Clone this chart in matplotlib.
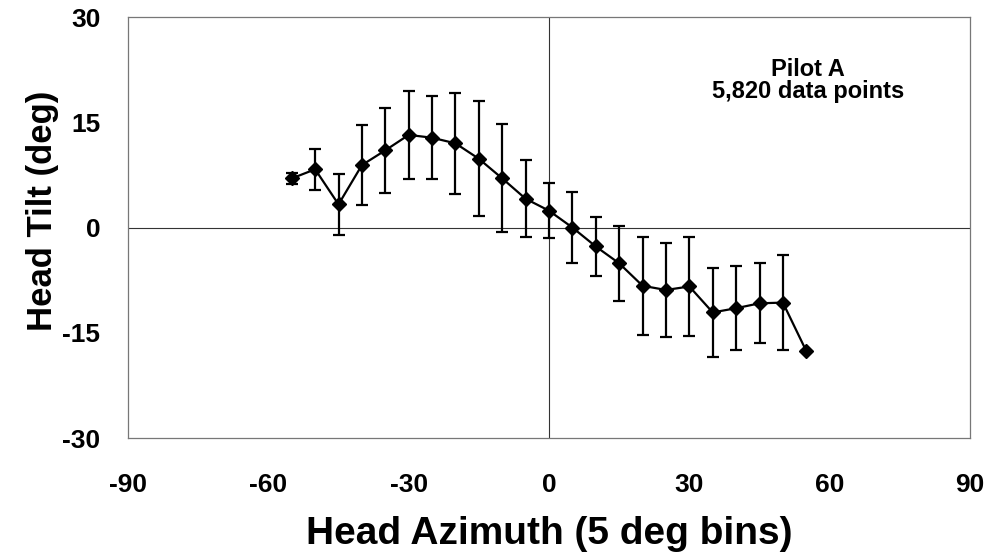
import matplotlib
matplotlib.use("Agg")
import matplotlib.pyplot as plt

azimuth = [-55, -50, -45, -40, -35, -30, -25, -20, -15, -10, -5, 0,
           5, 10, 15, 20, 25, 30, 35, 40, 45, 50, 55]
tilt = [7.0, 8.3, 3.3, 8.9, 11.0, 13.2, 12.8, 12.0, 9.8, 7.0, 4.1, 2.4,
        0.0, -2.7, -5.1, -8.3, -8.9, -8.4, -12.1, -11.5, -10.8, -10.7, -17.6]
tilt_sd = [0.8, 2.9, 4.3, 5.7, 6.1, 6.3, 5.9, 7.2, 8.2, 7.7, 5.5, 3.9,
           5.1, 4.2, 5.3, 7.0, 6.7, 7.1, 6.3, 6.0, 5.7, 6.8, 0.0]
xticks = [-90, -60, -30, 0, 30, 60, 90]
yticks = [-30, -15, 0, 15, 30]
annotation_lines = ["Pilot A", "5,820 data points"]

plt.rcParams['font.family'] = ['Liberation Sans', 'DejaVu Sans']
plt.rcParams['font.weight'] = 'bold'
plt.rcParams['axes.unicode_minus'] = False

fig = plt.figure(figsize=(9.91, 5.57), dpi=100)
ax = fig.add_axes([0.1292, 0.2136, 0.8496, 0.7558])

ax.axhline(0, color='#333333', lw=0.8, zorder=1)
ax.axvline(0, color='#333333', lw=0.8, zorder=1)

ax.errorbar(azimuth, tilt, yerr=tilt_sd, fmt='-D', color='black',
            ecolor='black', elinewidth=1.6, capsize=4.3, capthick=1.6,
            lw=1.6, markersize=7, zorder=3)

ax.set_xlim(-90, 90)
ax.set_ylim(-30, 30)
ax.set_xticks(xticks)
ax.set_yticks(yticks)
ax.tick_params(length=0, labelsize=19)
ax.tick_params(axis='x', pad=25)
ax.tick_params(axis='y', pad=20)
for lab in ax.get_xticklabels() + ax.get_yticklabels():
    lab.set_fontweight('bold')
for s in ax.spines.values():
    s.set_color('#777777')
    s.set_linewidth(0.9)

ax.set_xlabel("Head Azimuth (5 deg bins)", fontsize=28, fontweight='bold', va='center')
ax.xaxis.set_label_coords(0.5, -0.228)
ax.set_ylabel("Head Tilt (deg)", fontsize=25, fontweight='bold', va='center')
ax.yaxis.set_label_coords(-0.101, 0.54)

ax.text(0.808, 0.876, annotation_lines[0], transform=ax.transAxes, ha='center', va='center',
        fontsize=17, fontweight='bold')
ax.text(0.808, 0.822, annotation_lines[1], transform=ax.transAxes, ha='center', va='center',
        fontsize=17, fontweight='bold')

fig.savefig("out.png", dpi=100)
